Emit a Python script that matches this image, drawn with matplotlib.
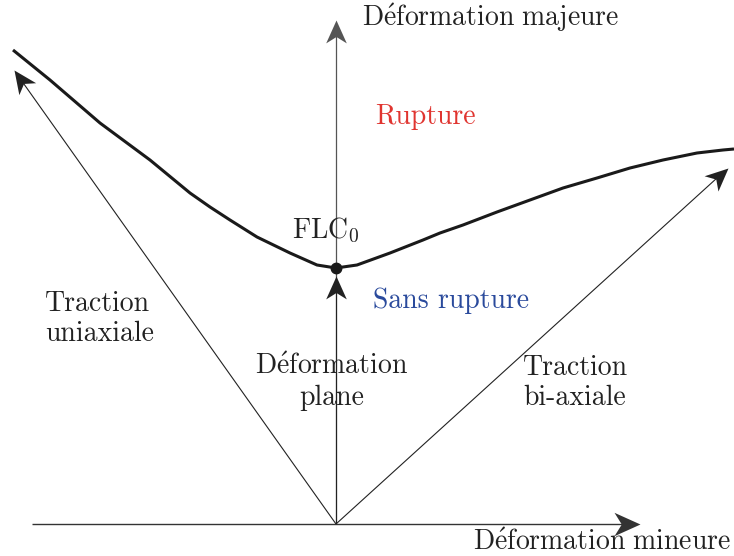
import numpy as np
import matplotlib.pyplot as plt
from matplotlib.path import Path
from matplotlib.markers import MarkerStyle
from matplotlib.transforms import Affine2D

plt.rcParams['mathtext.fontset'] = 'cm'
plt.rcParams['font.family'] = ['cmr10', 'DejaVu Serif']

# FLC curve (minor strain, major strain), origin at the axes crossing
flc_x = [-323, -286, -236, -186, -146, -126, -106, -79, -46, -19, 0, 21, 54, 87, 104,
         127, 161, 194, 227, 261, 294, 327, 361, 387, 398]
flc_y = [474, 444, 401, 364, 331, 317, 304, 287, 271, 259, 256, 259, 271, 284, 291,
         299, 312, 324, 336, 346, 356, 364, 371, 374, 375]

flc0 = (0, 256)
# strain path end points
path_uni = (-322, 454)
path_plane = (0, 248)
path_bi = (392, 356)

x_axis = (-304, 304)
y_axis = (0, 504)

fig = plt.figure(figsize=(7.34, 5.56), dpi=100)
ax = fig.add_axes([0, 0, 1, 1])
ax.set_xlim(-336, 398)
ax.set_ylim(-32, 524)
ax.axis('off')

# stealth arrow head, tip at the origin, pointing right
stealth = Path([(0, 0), (-1, 0.45), (-0.72, 0), (-1, -0.45), (0, 0)],
               [Path.MOVETO, Path.LINETO, Path.LINETO, Path.LINETO, Path.CLOSEPOLY])


def arrow(p0, p1, color, lw, size):
    dx, dy = p1[0] - p0[0], p1[1] - p0[1]
    ang = np.degrees(np.arctan2(dy, dx))
    n = np.hypot(dx, dy)
    back = 0.6 * size / n
    ax.plot([p0[0], p1[0] - dx * back], [p0[1], p1[1] - dy * back], color=color, lw=lw,
            solid_capstyle='butt')
    m = MarkerStyle(stealth, transform=Affine2D().rotate_deg(ang))
    ax.plot([p1[0]], [p1[1]], marker=m, ms=2.2 * size, color=color, mew=0)


arrow((x_axis[0], 0), (x_axis[1], 0), '#333333', 1.0, 17)
arrow((0, y_axis[0]), (0, y_axis[1]), '#555555', 0.9, 15)
for tip in [path_uni, path_plane, path_bi]:
    arrow((0, 0), tip, '#222222', 0.8, 15)

ax.plot(flc_x, flc_y, color='#1a1a1a', lw=2.2, solid_capstyle='butt')
ax.plot(*flc0, 'o', color='#1a1a1a', ms=7.5)

fs = 20
tc = '#222222'
ax.text(26, 506, r'$\mathrm{D\acute{e}formation\ majeure}$', fontsize=fs, color=tc,
        ha='left', va='center')
ax.text(137, -19, r'$\mathrm{D\acute{e}formation\ mineure}$', fontsize=fs, color=tc,
        ha='left', va='center')
ax.text(39, 407, 'Rupture', fontsize=fs, color='#e03530', ha='left', va='center')
ax.text(37, 223, 'Sans rupture', fontsize=fs, color='#2a4a9c', ha='left', va='center')
ax.text(-10, 294, r'$\mathrm{FLC}_0$', fontsize=fs, color=tc, ha='center', va='center')
ax.text(-291, 205, 'Traction\nuniaxiale', fontsize=fs, color=tc, ha='left', va='center',
        linespacing=1.2)
ax.text(-4, 142, r'$\mathrm{D\acute{e}formation}$' + '\nplane', fontsize=fs, color=tc,
        ha='center', va='center', linespacing=1.2)
ax.text(187, 141, 'Traction\nbi-axiale', fontsize=fs, color=tc, ha='left', va='center',
        linespacing=1.2)

fig.savefig('out.png', dpi=100)
